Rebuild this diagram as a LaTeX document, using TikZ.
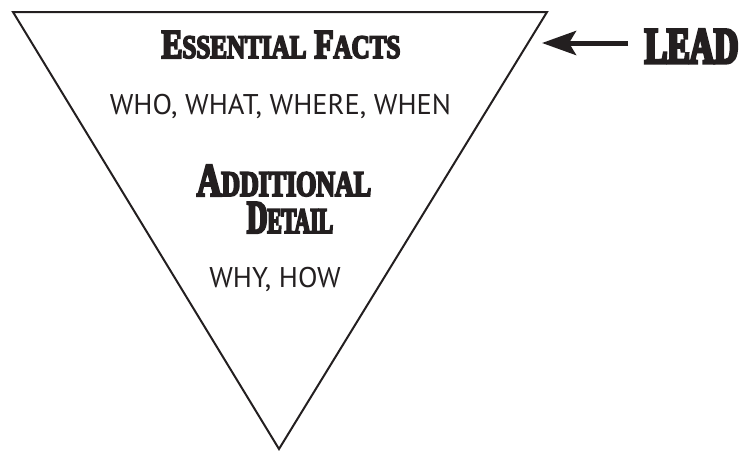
\documentclass[tikz,border=0pt]{standalone}
\usepackage{fontspec}
\setmainfont{Liberation Serif}
% heavy condensed display faces for the headings
\newfontfamily\headfont[FakeStretch=0.76,FakeBold=5]{Liberation Serif Bold}
\newfontfamily\headfontnarrow[FakeStretch=0.72,FakeBold=5]{Liberation Serif Bold}
\newfontfamily\headfonttight[FakeStretch=0.60,FakeBold=5]{Liberation Serif Bold}
\newfontfamily\leadfont[FakeStretch=0.66,FakeBold=6]{Liberation Serif Bold}
% plain sans for the question words
\newfontfamily\bodyfont{PT Sans}
\usetikzlibrary{arrows.meta}
\definecolor{ink}{HTML}{231F20}

% initial capital followed by smaller capitals
\newcommand\capsword[4]{{\fontsize{#1}{#1}\selectfont #3}{\fontsize{#2}{#2}\selectfont #4}}

\begin{document}
\begin{tikzpicture}[x=1pt,y=-1pt,
  heading/.style={inner sep=0pt,anchor=base,text=ink,text depth=0pt},
  words/.style={inner sep=0pt,anchor=base,text=ink,font=\bodyfont\fontsize{28.5}{28.5}\selectfont},
  edge/.style={draw=ink,line width=2pt,line join=miter},
  pointer/.style={draw=ink,line width=5pt,-{Stealth[length=34pt,width=24pt,inset=7pt]}}]
\useasboundingbox (0,0) rectangle (754,450);

% inverted pyramid
\coordinate (tl) at (13,12);
\coordinate (tr) at (547,12);
\coordinate (apex) at (279,449);
\draw[edge] (tl) -- (tr) -- (apex) -- cycle;

% texts inside the pyramid
\node[heading,font=\headfont] (facts) at (281,58)
  {\capsword{41}{33}{E}{SSENTIAL}\hspace{8pt}\capsword{41}{33}{F}{ACTS}};
\node[words] (who) at (280.5,114) {WHO, WHAT, WHERE, WHEN};
\node[inner sep=0pt,text=ink,align=center,anchor=center,
      font=\headfontnarrow\fontsize{36}{37}\selectfont] (detail) at (284,199)
  {\capsword{47}{36}{A}{DDITIONAL}\\
   \hspace*{12pt}{\headfonttight\capsword{47}{36}{D}{ETAIL}}};
\node[words] (why) at (275,287) {WHY, HOW};

% lead label with its pointer
\node[heading,font=\leadfont\fontsize{51}{51}\selectfont] (lead) at (691.5,63) {LEAD};
\coordinate (tail) at (628,43);
\coordinate (tip) at (542,43);
\draw[pointer] (tail) -- (tip);
\end{tikzpicture}
\end{document}
